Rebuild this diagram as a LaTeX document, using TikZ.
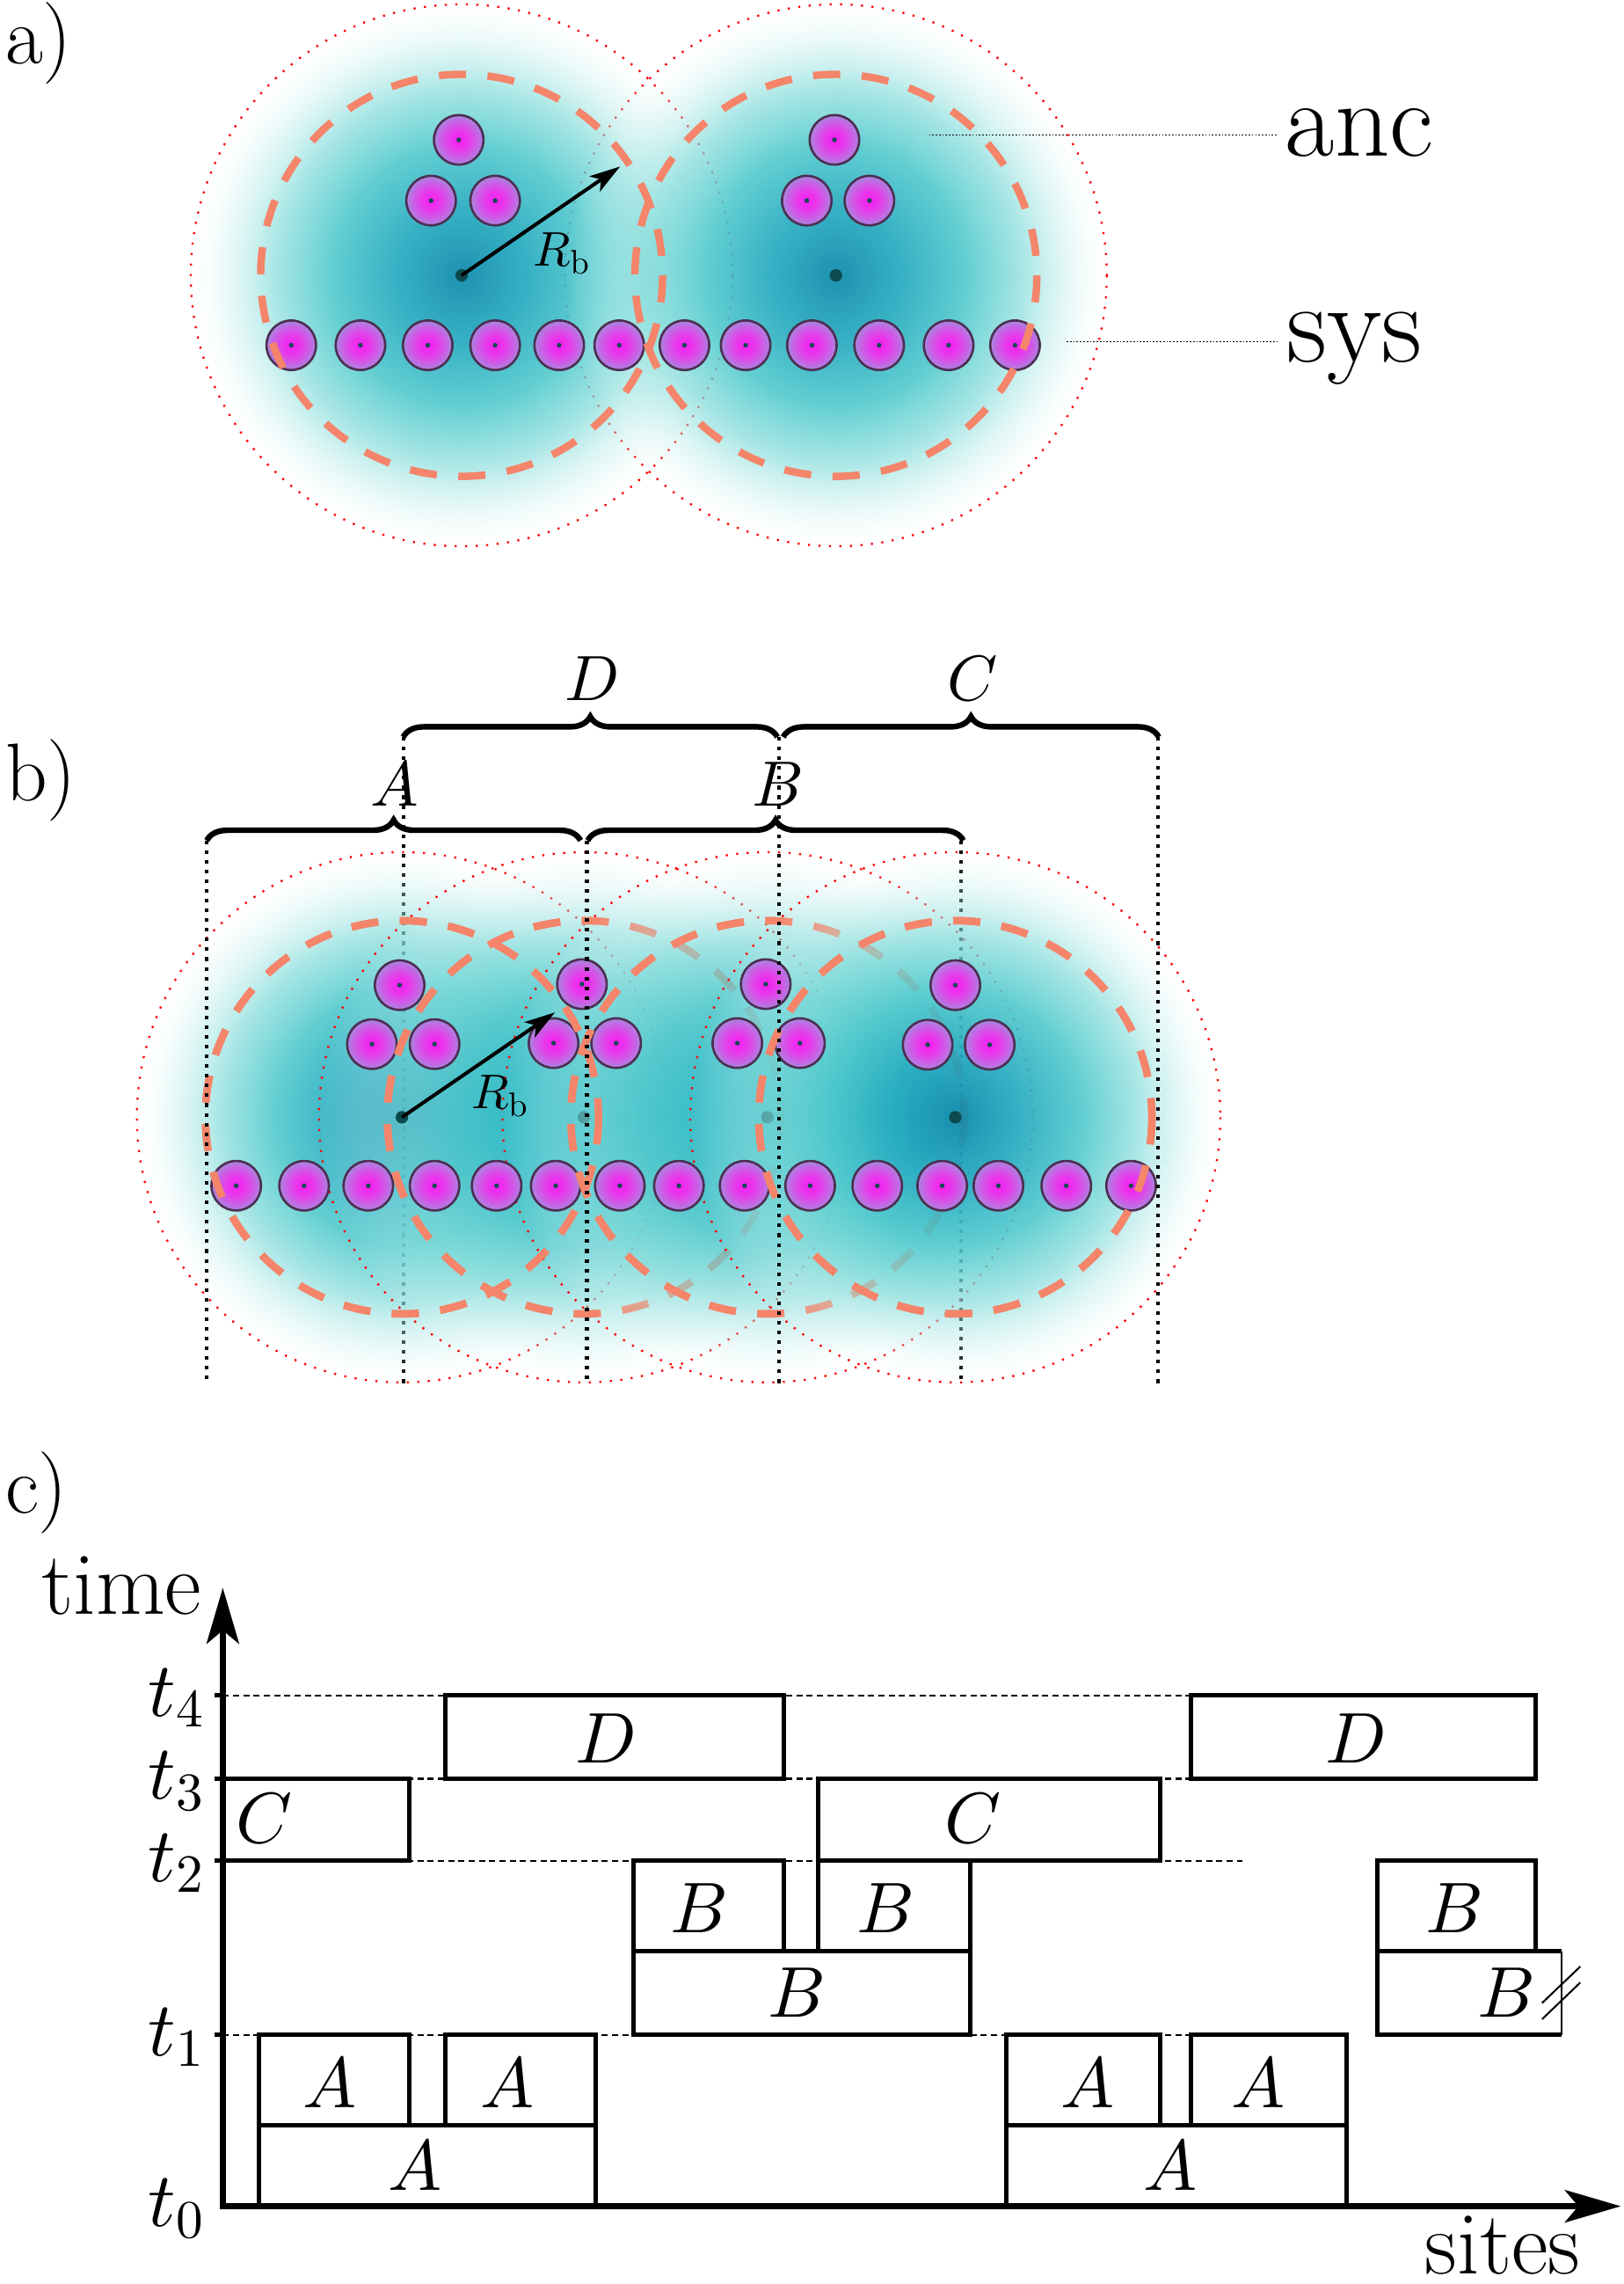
\documentclass[tikz,border=0pt]{standalone}
\DeclareFontShape{OML}{cmm}{m}{it}{<->cmmi10}{}
\DeclareFontShape{OT1}{cmr}{m}{n}{<->cmr10}{}
\usetikzlibrary{arrows.meta,decorations.pathreplacing,fadings}
\definecolor{cl0}{HTML}{0B88AA}
\definecolor{cl1}{HTML}{20A8BE}
\definecolor{cl2}{HTML}{4CC8CC}
\definecolor{cl3}{HTML}{88DEDC}
\definecolor{cl4}{HTML}{C4F0EE}
\definecolor{cl5}{HTML}{F2FBFB}
\definecolor{cm0}{HTML}{1CB0C0}
\definecolor{cm1}{HTML}{2AB8C4}
\definecolor{cm2}{HTML}{50C8CC}
\definecolor{at0}{HTML}{F41CF0}
\definecolor{at1}{HTML}{E83AEC}
\definecolor{at2}{HTML}{C468E4}
\definecolor{at3}{HTML}{A08CDD}
\definecolor{atedge}{HTML}{4E2E52}
\definecolor{dotc}{HTML}{0B4A4E}
\definecolor{ringor}{HTML}{F4856A}
\pgfdeclareradialshading{cloudsh}{\pgfpointorigin}{color(0bp)=(cl0); color(6bp)=(cl1); color(12bp)=(cl2); color(18bp)=(cl3); color(22.5bp)=(cl4); color(25bp)=(cl5); color(50bp)=(cl5)}
\pgfdeclareradialshading{cloudshm}{\pgfpointorigin}{color(0bp)=(cm0); color(6bp)=(cm1); color(12bp)=(cm2); color(18bp)=(cl3); color(22.5bp)=(cl4); color(25bp)=(cl5); color(50bp)=(cl5)}
\pgfdeclareradialshading{cloudfadesh}{\pgfpointorigin}{color(0bp)=(white); color(12bp)=(black!5); color(17bp)=(black!25); color(21bp)=(black!60); color(25bp)=(black); color(50bp)=(black)}
\pgfdeclarefading{cloudfade}{\pgfuseshading{cloudfadesh}}
\pgfdeclareradialshading{atomsh}{\pgfpointorigin}{color(0bp)=(at0); color(10bp)=(at1); color(20bp)=(at2); color(25bp)=(at3); color(50bp)=(at3)}
\newcommand\atomat[2]{\shadedraw[atomsty] (#1,#2) circle (17); \fill[dotc] (#1,#2) circle (1.6);}
\begin{document}
\begin{tikzpicture}[x=0.01cm,y=-0.01cm,
  fs/.style={font=\fontsize{#1}{#1}\selectfont, inner sep=0pt},
  cloudsty/.style={shading=cloudsh, path fading=cloudfade},
  cloudmid/.style={shading=cloudshm, path fading=cloudfade},
  redring/.style={draw=red, line width=0.4pt, dash pattern=on 0.4pt off 1.65pt},
  orring/.style={draw=ringor, line width=1.45pt, dash pattern=on 5.3pt off 4.2pt},
  atomsty/.style={shading=atomsh, draw=atedge, line width=0.45pt},
  rarrow/.style={-{Stealth[length=6pt,width=3.6pt,inset=1.5pt]}, line width=0.7pt},
  leader/.style={line width=0.3pt, dash pattern=on 0.3pt off 0.35pt},
  vline/.style={line width=0.7pt, dash pattern=on 0.7pt off 1.2pt},
  brc/.style={decorate, decoration={brace, amplitude=4pt}, line width=1.1pt},
  boxl/.style={line width=0.85pt},
  lvl/.style={line width=0.45pt, dash pattern=on 1.2pt off 0.8pt},
  axisarr/.style={{Stealth[length=10.9pt,width=6.3pt,inset=2.6pt]}-{Stealth[length=10.9pt,width=6.3pt,inset=2.6pt]}, line width=1.3pt},
]
\fill[white] (0,0) rectangle (1115,1568);
\useasboundingbox (0,0) rectangle (1115,1568);

% ---------------- panel a ----------------
\node[fs=16, anchor=base west] (la) at (3,43.5) {a)};
\coordinate (pa1) at (317,189);
\coordinate (pa2) at (574,189);
\draw[redring] (pa1) circle (186);
\draw[redring] (pa2) circle (186);
\shade[cloudsty, fill opacity=0.92] (pa1) circle (186);
\shade[cloudsty, fill opacity=0.92] (pa2) circle (186);
\fill[dotc] (pa1) circle (4.3);
\fill[dotc] (pa2) circle (4.3);
\foreach \x/\y in {315/96, 296/137.7, 340/137.7, 573/96, 554/137.7, 597/137.7}{\atomat{\x}{\y}}
\foreach \x in {200,247.5,293.7,340,384,425.2,470,512,557.5,603.7,651.4,697}{\atomat{\x}{237}}
\draw[orring] (pa1) circle (138);
\draw[orring] (pa2) circle (138);
\coordinate (ta) at (425.8,114.3);
\draw[rarrow] (pa1) -- (ta);
\node[fs=9.5, anchor=base west] (rba) at (365.4,182.6) {$R_{\mathrm{b}}$};
\node[fs=21, anchor=base west] (anc) at (882,107.1) {anc};
\node[fs=22, anchor=base west] (sys) at (883,248.6) {sys};
\coordinate (ancs) at (637.9,92.6);
\coordinate (syss) at (732.4,234.6);
\draw[leader] (ancs) -- ([xshift=-1.5pt]anc.west |- ancs);
\draw[leader] (syss) -- ([xshift=-1.5pt]sys.west |- syss);

% ---------------- panel b ----------------
\node[fs=16, anchor=base west] (lb) at (3,550) {b)};
\coordinate (pb1) at (276,767);
\coordinate (pb2) at (401,767);
\coordinate (pb3) at (527,767);
\coordinate (pb4) at (656,767);
\coordinate (v2t) at (277,506);  \coordinate (v2b) at (277,951);
\coordinate (v5t) at (660,577);  \coordinate (v5b) at (660,951);
\draw[vline] (v2t) -- (v2b);
\draw[vline] (v5t) -- (v5b);
\shade[cloudsty, fill opacity=0.92] (pb1) circle (182);
\draw[redring] (pb1) circle (182);
\shade[cloudmid, fill opacity=0.82] (pb2) circle (182);
\draw[redring] (pb2) circle (182);
\draw[orring] (pb1) circle (135);
\draw[orring] (pb2) circle (135);
\fill[dotc] (pb1) circle (4.3);
\fill[dotc] (pb2) circle (4.3);
\shade[cloudmid, fill opacity=0.82] (pb3) circle (182);
\draw[redring] (pb3) circle (182);
\draw[orring] (pb3) circle (135);
\fill[dotc] (pb3) circle (4.3);
\shade[cloudsty, fill opacity=0.92] (pb4) circle (182);
\draw[redring] (pb4) circle (182);
\draw[orring] (pb4) circle (135);
\fill[dotc] (pb4) circle (4.3);
\foreach \x/\y in {274.4/676.3, 255.4/716.8, 298.4/716.8,
                   399.6/675.6, 380.1/716.1, 423.1/716.1,
                   525.8/675.6, 506.3/716.1, 549.3/716.1,
                   656/676.3, 637/717.2, 679.6/717.2}{\atomat{\x}{\y}}
\foreach \x in {162.2,208.8,252.9,298.4,341,381.6,425.6,466.2,511.3,556.3,602.4,647,685.6,732.2,776.7}{\atomat{\x}{814}}
% bright dashes lying over the atoms
\draw[orring] (pb1) circle (135);
\begin{scope}
  \clip (0,560) rectangle (410,980);
  \draw[orring] (pb2) circle (135);
\end{scope}
\begin{scope}
  \clip (0,560) rectangle (535,980);
  \draw[orring] (pb3) circle (135);
\end{scope}
\draw[orring] (pb4) circle (135);
\coordinate (tb) at (381.1,695);
\draw[rarrow] (pb1) -- (tb);
\node[fs=9.5, anchor=base west] (rbb) at (323,761) {$R_{\mathrm{b}}$};
\coordinate (v1t) at (142,577);  \coordinate (v1b) at (142,951);
\coordinate (v3t) at (403,577);  \coordinate (v3b) at (403,951);
\coordinate (v4t) at (535,506);  \coordinate (v4b) at (535,951);
\coordinate (v6t) at (795,506);  \coordinate (v6b) at (795,951);
\draw[vline] (v1t) -- (v1b);
\draw[vline] (v3t) -- (v3b);
\draw[vline] (v4t) -- (v4b);
\draw[vline] (v6t) -- (v6b);
\coordinate (bA1) at (142,577);   \coordinate (bA2) at (398.6,577);
\coordinate (bB1) at (403.6,577); \coordinate (bB2) at (661.5,577);
\coordinate (bD1) at (276.9,506); \coordinate (bD2) at (533.8,506);
\coordinate (bC1) at (537.8,506); \coordinate (bC2) at (795.7,506);
\draw[brc] (bA1) -- (bA2);
\draw[brc] (bB1) -- (bB2);
\draw[brc] (bD1) -- (bD2);
\draw[brc] (bC1) -- (bC2);
\node[fs=12.5] (labA) at (270.8,538.6) {$A$};
\node[fs=12.5] (labB) at (534,538.6) {$B$};
\node[fs=12.5] (labD) at (407,466) {$D$};
\node[fs=12.5] (labC) at (668,466) {$C$};

% ---------------- panel c ----------------
\node[fs=16, anchor=base west] (lc) at (3,1038.5) {c)};
\coordinate (O) at (153,1514.6);
\coordinate (ytip) at (153,1090);
\coordinate (xtip) at (1113,1514.6);
\foreach \yy in {1164,1221,1277.5,1397}{
  \draw[lvl] (153,\yy) -- (853,\yy);
  \draw[boxl] (147.5,\yy) -- (153,\yy);
}
% A boxes
\draw[boxl] (177.8,1459) rectangle (408.9,1514.6);
\draw[boxl] (177.8,1397) rectangle (280.9,1459);
\draw[boxl] (305.8,1397) rectangle (408.9,1459);
\draw[boxl] (691.2,1459) rectangle (924.4,1514.6);
\draw[boxl] (691.2,1397) rectangle (796.4,1459);
\draw[boxl] (817.8,1397) rectangle (924.4,1459);
% B boxes
\draw[boxl] (435.2,1339.5) rectangle (666.3,1397);
\draw[boxl] (435.2,1277.5) rectangle (538.3,1339.5);
\draw[boxl] (561.8,1277.5) rectangle (666.3,1339.5);
\draw[boxl] (945.8,1277.5) rectangle (1054.6,1339.5);
\draw[boxl] (1072.4,1339.5) -- (945.8,1339.5) -- (945.8,1397) -- (1072.4,1397);
\draw[line width=0.35pt] (1072.4,1339.5) -- (1072.4,1397);
\draw[line width=0.35pt] (1058.9,1375.1) -- (1085.2,1350);
\draw[line width=0.35pt] (1058.9,1386.2) -- (1085.2,1361);
% C boxes
\draw[boxl] (153,1221) -- (280.9,1221) -- (280.9,1277.5) -- (153,1277.5);
\draw[boxl] (561.8,1221) rectangle (796.4,1277.5);
% D boxes
\draw[boxl] (305.8,1164) rectangle (538.3,1221);
\draw[boxl] (817.8,1164) rectangle (1054.6,1221);
% axes
\draw[axisarr] (ytip) -- (O) -- (xtip);
% labels
\node[fs=14] (cA1) at (226.5,1430) {$A$};
\node[fs=14] (cA2) at (348.3,1430) {$A$};
\node[fs=14] (cA3) at (284.9,1487) {$A$};
\node[fs=14] (cA4) at (746.7,1430) {$A$};
\node[fs=14] (cA5) at (864,1430) {$A$};
\node[fs=14] (cA6) at (803.5,1487) {$A$};
\node[fs=14] (cB1) at (480,1310) {$B$};
\node[fs=14] (cB2) at (608,1310) {$B$};
\node[fs=14] (cB3) at (547.5,1368) {$B$};
\node[fs=14] (cB4) at (999,1310) {$B$};
\node[fs=14] (cB5) at (1034.6,1368) {$B$};
\node[fs=14] (cC1) at (181.3,1248.3) {$C$};
\node[fs=14] (cC2) at (668.4,1248.3) {$C$};
\node[fs=14] (cD1) at (416,1193.6) {$D$};
\node[fs=14] (cD2) at (931.5,1193.6) {$D$};
\node[fs=15, anchor=base east] (t4) at (142,1178) {$t_4$};
\node[fs=15, anchor=base east] (t3) at (142,1235) {$t_3$};
\node[fs=15, anchor=base east] (t2) at (142,1291.5) {$t_2$};
\node[fs=15, anchor=base east] (t1) at (142,1411) {$t_1$};
\node[fs=15, anchor=base east] (t0) at (142,1528.6) {$t_0$};
\node[fs=17.5, anchor=base west] (time) at (28,1108) {time};
\node[fs=17.5, anchor=base west] (sites) at (978,1561) {sites};
\end{tikzpicture}
\end{document}
